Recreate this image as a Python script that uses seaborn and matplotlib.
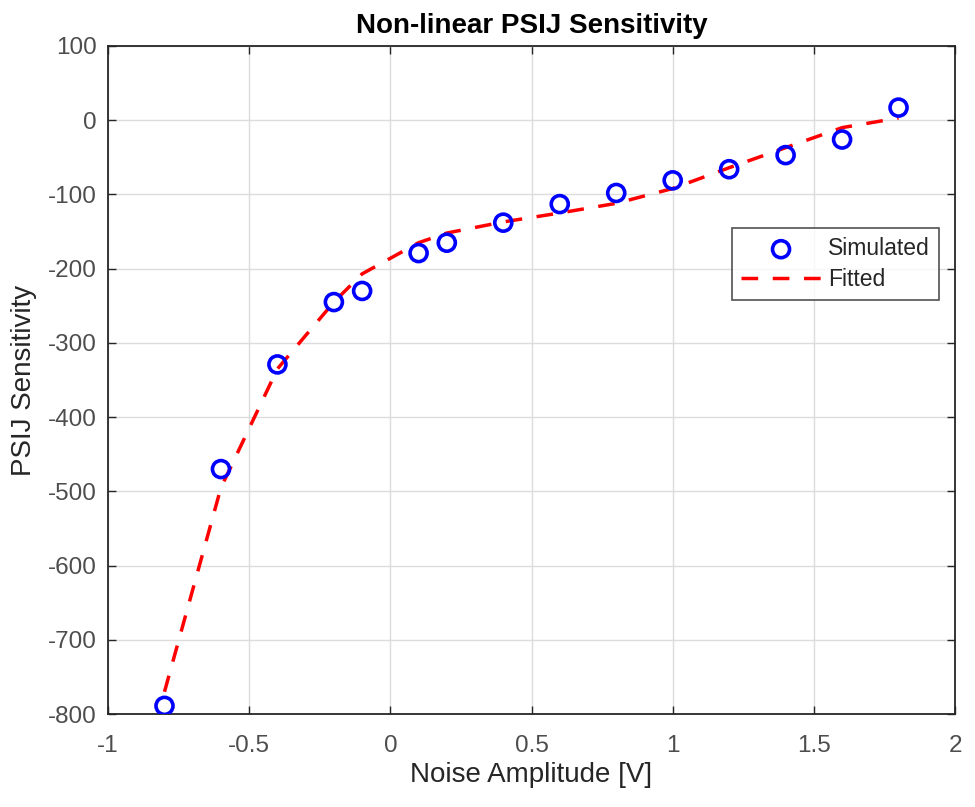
import numpy as np
import pandas as pd
import matplotlib
matplotlib.use("Agg")
import matplotlib.pyplot as plt
import seaborn as sns

# datos
x_val = [-0.8, -0.6, -0.4, -0.2, -0.1, 0.1, 0.2, 0.4, 0.6, 0.8, 1.0, 1.2, 1.4, 1.6, 1.8]
simulado = [-789, -470, -329, -245, -230, -179, -165, -138, -113, -98, -81, -66, -47, -26, 17]
ajustado = [-770, -495, -335, -245, -207, -165, -152, -137, -125, -112, -92, -64, -37, -10, 3]
x_ticks = ["-1", "-0.5", "0", "0.5", "1", "1.5", "2"]

df = pd.DataFrame({"x": x_val, "sim": simulado, "fit": ajustado})

sns.set_style("whitegrid")
plt.rcParams["font.family"] = ["Liberation Sans", "DejaVu Sans"]
plt.rcParams["axes.unicode_minus"] = False

fig = plt.figure(figsize=(9.75, 8.07), dpi=100)
ax = fig.add_axes([0.1108, 0.1152, 0.8687, 0.8278])

sns.scatterplot(data=df, x="x", y="sim", ax=ax, marker="o", s=150,
                facecolors="none", edgecolor="#0000ff", linewidth=2.6,
                label="Simulated", zorder=3)
sns.lineplot(data=df, x="x", y="fit", ax=ax, color="#ff0000",
             linestyle=(0, (4.8, 4.2)), linewidth=2.5, label="Fitted", zorder=2)

ax.set_xlim(-1, 2)
ax.set_ylim(-800, 100)
ax.set_xticks(np.arange(-1, 2.01, 0.5))
ax.set_xticklabels(x_ticks)
ax.set_yticks(np.arange(-800, 101, 100))
ax.tick_params(direction="in", length=6, width=1, colors="#262626",
               labelsize=17.5, labelcolor="#4d4d4d",
               top=True, right=True, bottom=True, left=True)
ax.tick_params(axis="x", pad=15)
ax.tick_params(axis="y", pad=8)
ax.grid(True, color="#dcdcdc", linewidth=1.0)
for s in ax.spines.values():
    s.set_color("#262626")
    s.set_linewidth(1.3)

ax.set_xlabel("Noise Amplitude [V]", fontsize=20, color="#262626", labelpad=4)
ax.set_ylabel("PSIJ Sensitivity", fontsize=20, color="#262626", labelpad=8)
ax.set_title("Non-linear PSIJ Sensitivity", fontsize=20, fontweight="bold",
             color="black", pad=9)

leg = ax.legend(loc="upper right", bbox_to_anchor=(0.981, 0.7275), fontsize=16.5,
                frameon=True, fancybox=False, edgecolor="#262626",
                handlelength=3.5, handletextpad=0.3, borderpad=0.4,
                labelspacing=0.35, borderaxespad=0)
leg.get_frame().set_linewidth(1.2)

plt.savefig("out.png", dpi=100)
